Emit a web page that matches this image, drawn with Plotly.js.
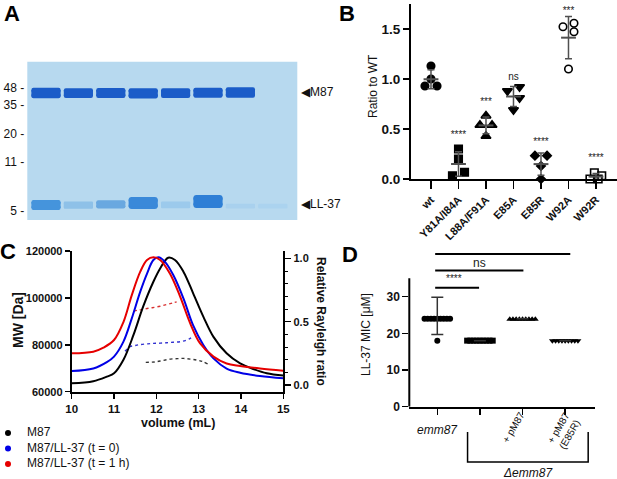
<!DOCTYPE html>
<html><head><meta charset="utf-8">
<script src="https://cdn.plot.ly/plotly-3.0.1.min.js"></script>
<style>html,body{margin:0;padding:0;background:#fff}#plot{width:617px;height:479px}</style>
</head><body><div id="plot"></div>
<script>
// ---------- Panel A (gel) data ----------
const gelLanes = ['wt','Y81A/I84A','L88A/F91A','E85A','E85R','W92A','W92R','–'];
const ladderLabels = ['48 -','35 -','20 -','11 -','5 -'];
const ladderPos = [16.2, 27.4, 45.7, 63.5, 94.1];          // migration (% of gel height)
const m87Center = [19.8, 19.8, 19.8, 20.0, 19.8, 19.6, 19.4];
const m87Thick  = [6.6, 6.2, 6.4, 6.4, 6.2, 6.4, 6.6];
const ll37Center = [90.5, 90.6, 90.2, 89.3, 90.4, 88.3, 91.2, 91.2];
const ll37Thick  = [6.3, 4.6, 5.2, 7.6, 4.2, 8.2, 3.0, 3.0];
const ll37Color  = ['#4594dc','#8ec1e8','#69a8e0','#3a89d9','#9ccaec','#2e7fd6','#a9d1ee','#abd3ef'];

// ---------- Panel B data ----------
const bGroups = ['wt','Y81A/I84A','L88A/F91A','E85A','E85R','W92A','W92R'];
const bWt   = [1.13, 1.00, 0.93, 0.93];
const bY81A = [0.30, 0.20, 0.033, 0.067];
const bL88A = [0.633, 0.54, 0.54, 0.43];
const bE85A = [0.88, 0.92, 0.81, 0.69];
const bE85R = [0.233, 0.233, 0.13, 0.0];
const bW92A = [1.523, 1.557, 1.473, 1.10];
const bW92R = [0.063, 0.033, 0.0, 0.0];
const bJitter = [[0,0,-0.22,0.22],[0,0,-0.22,0.22],[0,-0.22,0.22,0],[-0.22,0.22,0.22,0],[-0.22,0.22,0,0],[-0.2,0.2,0.2,0],[-0.06,0.21,-0.22,0.08]];
const bSymbols = ['circle','square','triangle-up','triangle-down','diamond','circle-open','square-open'];
const bSig  = ['', '****', '***', 'ns', '****', '***', '****'];
const bSigY = [null, 0.44, 0.77, 1.02, 0.37, 1.68, 0.21];

// ---------- Panel C data ----------
const m87X = [10, 10.51, 10.83, 11.0, 11.22, 11.46, 11.69, 11.93, 12.09, 12.28, 12.44, 12.64, 12.87, 13.11, 13.35, 13.66, 13.98, 14.29, 14.61, 15];
const m87R = [0.013, 0.03, 0.066, 0.092, 0.197, 0.395, 0.62, 0.815, 0.92, 1.005, 0.987, 0.895, 0.724, 0.54, 0.38, 0.25, 0.17, 0.126, 0.092, 0.074];
const t0X = [10, 10.51, 10.83, 11.0, 11.22, 11.42, 11.62, 11.78, 11.93, 12.05, 12.2, 12.4, 12.64, 12.87, 13.11, 13.35, 13.66, 13.98, 14.45, 15];
const t0R = [0.11, 0.13, 0.18, 0.224, 0.34, 0.526, 0.737, 0.88, 0.987, 1.008, 0.974, 0.868, 0.684, 0.47, 0.316, 0.21, 0.13, 0.097, 0.071, 0.053];
const t1X = [10, 10.51, 10.75, 11.0, 11.22, 11.42, 11.62, 11.78, 11.93, 12.09, 12.32, 12.56, 12.8, 13.03, 13.35, 13.66, 13.98, 14.45, 15];
const t1R = [0.25, 0.263, 0.295, 0.355, 0.495, 0.71, 0.895, 0.987, 1.008, 0.987, 0.88, 0.70, 0.487, 0.33, 0.224, 0.17, 0.15, 0.13, 0.113];
const m87MwX = [11.75, 11.9, 12.01, 12.15, 12.33, 12.5, 12.64, 12.8, 12.95, 13.1, 13.22];
const m87Mw  = [72500, 72600, 72800, 73300, 73900, 74100, 74200, 73900, 73500, 72800, 71800];
const t0MwX = [11.26, 11.32, 11.38, 11.5, 11.62, 11.8, 11.93, 12.1, 12.25, 12.4, 12.56, 12.7, 12.8, 12.87];
const t0Mw  = [77300, 78300, 79200, 79700, 80100, 80400, 80600, 80700, 80900, 81100, 81300, 81900, 82700, 83500];
const t1MwX = [11.47, 11.55, 11.65, 11.78, 11.9, 12.09, 12.25, 12.4, 12.48];
const t1Mw  = [94300, 94700, 95000, 95500, 95800, 96450, 97200, 97900, 98300];
const cNames = ['M87','M87/LL-37 (t = 0)','M87/LL-37 (t = 1 h)'];
const cColors = ['#000000','#0000e6','#e60000'];
const cMwColors = ['#333333','#3030d0','#d83030'];

// ---------- Panel D data ----------
const dMean = [24.75, 18, 24, 18];
const dSD   = [5.05, 0, 0, 0];
const dEmm  = [24,24,24,24,24,24,24,24,24,18];
const dEmmJ = [-0.3,-0.225,-0.15,-0.075,0,0.075,0.15,0.225,0.3,0];
const dDel  = [18,18,18,18,18,18,18,18,18];
const dPm   = [23.8,23.8,23.8,23.8,23.8,23.8,23.8,23.8,23.8];
const dPe   = [18,18,18,18,18,18,18,18,18];
const dJ    = [-0.3,-0.225,-0.15,-0.075,0,0.075,0.15,0.225,0.3];
const brFrom = [-0.05, -0.05, -0.05];
const brTo   = [0.98, 2.02, 3.12];
const brY    = [32.4, 37.1, 41.6];
const brLab  = ['****', 'ns', '****'];
const brLabY = [35.0, 39.2, 44.0];
const delBracket = [0.71, 3.54];

// ---------- helpers ----------
const W = 617, H = 479;
const FONT = 'Liberation Sans, Arial, sans-serif';
const dx = (a, b) => [a / W, b / W];
const dy = (t, b) => [1 - b / H, 1 - t / H];
const py = p => 1 - p / H;
const px = p => p / W;

const traces = [];
// Gel bands: two rounded half-bars from the band centre plus a plain core bar (covers the seam)
function band(centers, thick, color) {
  [1, -1].forEach(sgn => {
    traces.push({type:'bar', x: centers.map((_, i) => i), y: thick.map(t => sgn * t / 2), base: centers,
      width: 0.9, marker: {color: color, line: {width: 0}, cornerradius: 4}, xaxis: 'x', yaxis: 'y', showlegend: false, hoverinfo: 'skip'});
  });
  traces.push({type:'bar', x: centers.map((_, i) => i), y: thick.map(t => t * 0.6), base: centers.map((c, i) => c - thick[i] * 0.3),
    width: 0.9, marker: {color: color, line: {width: 0}}, xaxis: 'x', yaxis: 'y', showlegend: false, hoverinfo: 'skip'});
}
band(m87Center, m87Thick, '#1b5cc8');
band(ll37Center, ll37Thick, ll37Color);

// Panel B
const bAll = [bWt, bY81A, bL88A, bE85A, bE85R, bW92A, bW92R];
const mean = a => a.reduce((s, v) => s + v, 0) / a.length;
const sd = a => { const m = mean(a); return Math.sqrt(a.reduce((s, v) => s + (v - m) * (v - m), 0) / (a.length - 1)); };
bAll.forEach((vals, g) => {
  const sym = bSymbols[g];
  traces.push({type:'scatter', mode:'markers', x: vals.map((_, k) => g + bJitter[g][k]), y: vals,
    marker: {symbol: sym, size: sym.indexOf('triangle') === 0 ? 8.5 : (sym === 'diamond' ? 6.5 : 7.5), color: '#000', line: {color: '#000', width: 1.6}},
    xaxis: 'x2', yaxis: 'y2', showlegend: false, cliponaxis: false, hoverinfo: 'skip'});
});
traces.push({type:'scatter', mode:'markers', x: bGroups.map((_, i) => i), y: bAll.map(mean),
  marker: {size: 1, color: 'rgba(0,0,0,0)'},
  error_y: {type: 'data', array: bAll.map(sd), color: '#505050', thickness: 1.5, width: 3.5},
  error_x: {type: 'data', array: bGroups.map(() => 0.27), color: '#505050', thickness: 2, width: 0},
  xaxis: 'x2', yaxis: 'y2', showlegend: false, cliponaxis: false, hoverinfo: 'skip'});
traces.push({type:'scatter', mode:'text', x: bGroups.map((_, i) => i), y: bSigY, text: bSig,
  textfont: {family: FONT, size: 10, color: '#222'}, xaxis: 'x2', yaxis: 'y2', showlegend: false, cliponaxis: false, hoverinfo: 'skip'});

// Panel C
[[m87MwX, m87Mw], [t0MwX, t0Mw], [t1MwX, t1Mw]].forEach((s, i) => {
  traces.push({type:'scatter', mode:'lines', x: s[0], y: s[1], line: {color: cMwColors[i], width: 1.4, dash: 'dot', shape: 'spline'},
    xaxis: 'x3', yaxis: 'y3', showlegend: false, hoverinfo: 'skip'});
});
[[m87X, m87R], [t0X, t0R], [t1X, t1R]].forEach((s, i) => {
  traces.push({type:'scatter', mode:'lines', x: s[0], y: s[1], line: {color: cColors[i], width: 2, shape: 'spline', smoothing: 1},
    xaxis: 'x3', yaxis: 'y4', showlegend: false, hoverinfo: 'skip'});
});
// Legend of panel C (own small axis: rows 0..2)
traces.push({type:'scatter', mode:'markers', x: cNames.map(() => 8), y: cNames.map((_, i) => i), marker: {color: cColors, size: 6},
  xaxis: 'x5', yaxis: 'y6', showlegend: false, cliponaxis: false, hoverinfo: 'skip'});
traces.push({type:'scatter', mode:'text', x: cNames.map(() => 27), y: cNames.map((_, i) => i), text: cNames, textposition: 'middle right',
  textfont: {family: FONT, size: 12, color: '#111'}, xaxis: 'x5', yaxis: 'y6', showlegend: false, cliponaxis: false, hoverinfo: 'skip'});

// Panel D
const dSets = [[dEmm, dEmmJ, 'circle'], [dDel, dJ, 'square'], [dPm, dJ, 'triangle-up'], [dPe, dJ, 'triangle-down']];
dSets.forEach((s, g) => {
  traces.push({type:'scatter', mode:'markers', x: s[0].map((_, k) => g + s[1][k]), y: s[0],
    marker: {symbol: s[2], size: 6, color: '#000', line: {width: 0}}, xaxis: 'x4', yaxis: 'y5', showlegend: false, cliponaxis: false, hoverinfo: 'skip'});
});
traces.push({type:'scatter', mode:'markers', x: dMean.map((_, i) => i), y: dMean, marker: {size: 1, color: 'rgba(0,0,0,0)'},
  error_y: {type: 'data', array: dSD, color: '#333', thickness: 1.5, width: 6},
  xaxis: 'x4', yaxis: 'y5', showlegend: false, cliponaxis: false, hoverinfo: 'skip'});
brFrom.forEach((f, i) => {
  traces.push({type:'scatter', mode:'lines', x: [f, brTo[i]], y: [brY[i], brY[i]], line: {color: '#000', width: 2},
    xaxis: 'x4', yaxis: 'y5', showlegend: false, hoverinfo: 'skip'});
});

const boldTick = s => ({family: FONT, size: s, color: '#111', weight: 'bold'});
const axBase = {showgrid: false, zeroline: false, linecolor: '#000', ticks: 'outside', tickcolor: '#000'};

const ann = [];
const txt = (x, y, text, o) => ann.push(Object.assign({xref: 'paper', yref: 'paper', x: px(x), y: py(y), text: text, showarrow: false,
  xanchor: 'center', yanchor: 'middle', font: {family: FONT, size: 12, color: '#111'}}, o || {}));
// panel letters
txt(12, 14, '<b>A</b>', {font: {family: FONT, size: 22, color: '#000'}});
txt(347, 13, '<b>B</b>', {font: {family: FONT, size: 22, color: '#000'}});
txt(8, 251, '<b>C</b>', {font: {family: FONT, size: 22, color: '#000'}});
txt(350, 255, '<b>D</b>', {font: {family: FONT, size: 22, color: '#000'}});
// gel lane labels
gelLanes.forEach((l, i) => {
  if (l === '–') {
    ann.push({xref: 'x', yref: 'y', x: i, y: -7.5, text: l, showarrow: false, font: {family: FONT, size: 13, color: '#111'}});
  } else {
    ann.push({xref: 'x', yref: 'y', x: i - 0.12, y: -2.5, text: l, showarrow: false, textangle: -40, xanchor: 'left', yanchor: 'bottom',
      font: {family: FONT, size: 13, color: '#111'}});
  }
});
ann.push({xref: 'paper', yref: 'y', x: px(299), y: 19.2, text: '◀M87', showarrow: false, xanchor: 'left', font: {family: FONT, size: 12, color: '#111'}});
ann.push({xref: 'paper', yref: 'y', x: px(299), y: 89.6, text: '◀LL-37', showarrow: false, xanchor: 'left', font: {family: FONT, size: 12, color: '#111'}});
// D significance labels
brLab.forEach((l, i) => {
  ann.push({xref: 'x4', yref: 'y5', x: (brFrom[i] + brTo[i]) / 2 - (l === 'ns' ? 0 : 0.07), y: brLabY[i], text: l, showarrow: false,
    font: {family: FONT, size: l === 'ns' ? 12 : 10, color: '#222'}});
});
// axis titles
txt(373, 86, 'Ratio to WT', {textangle: -90, font: {family: FONT, size: 12, color: '#111'}});
txt(18, 320, '<b>MW [Da]</b>', {textangle: -90, font: {family: FONT, size: 14, color: '#111'}});
txt(321, 321, '<b>Relative Rayleigh ratio</b>', {textangle: 90, font: {family: FONT, size: 12, color: '#111'}});
txt(178, 423, '<b>volume (mL)</b>', {font: {family: FONT, size: 12.5, color: '#111'}});
txt(366, 334, 'LL-37 MIC [μM]', {textangle: -90, font: {family: FONT, size: 12, color: '#111'}});
// D category labels
txt(437, 430, '<i>emm87</i>', {font: {family: FONT, size: 12, color: '#111'}});
txt(513, 427, '+ pM87', {textangle: -60, font: {family: FONT, size: 10, color: '#111'}});
txt(564, 431, '+ pM87<br>(E85R)', {textangle: -60, font: {family: FONT, size: 10, color: '#111'}});
txt(528, 473, '<i>Δemm87</i>', {font: {family: FONT, size: 12, color: '#111'}});

const shapes = [
  {type: 'rect', xref: 'x domain', yref: 'y domain', x0: 0, x1: 1, y0: 0, y1: 1, fillcolor: '#b7d9ef', line: {width: 0}, layer: 'below'},
  {type: 'line', xref: 'x4 domain', yref: 'y5', x0: 0, x1: 0, y0: 0, y1: 35, line: {color: '#000', width: 2}},
  {type: 'path', xref: 'x4', yref: 'paper',
   path: `M ${delBracket[0]} ${py(432)} L ${delBracket[0]} ${py(462)} L ${delBracket[1]} ${py(462)} L ${delBracket[1]} ${py(432)}`,
   line: {color: '#000', width: 1.5}}
];

const layout = {
  width: W, height: H, margin: {l: 0, r: 0, t: 0, b: 0, autoexpand: false}, paper_bgcolor: '#fff', plot_bgcolor: 'rgba(0,0,0,0)',
  barmode: 'overlay', font: {family: FONT, color: '#111'}, showlegend: false,
  xaxis: {domain: dx(27.3, 297.3), range: [-0.577, 7.756], visible: false, anchor: 'y'},
  yaxis: {domain: dy(61.7, 220), range: [100, 0], anchor: 'x', showgrid: false, zeroline: false, showline: false, ticks: '',
    tickmode: 'array', tickvals: ladderPos, ticktext: ladderLabels, tickfont: {family: FONT, size: 12, color: '#111'}, ticklabelstandoff: 2},
  xaxis2: Object.assign({}, axBase, {domain: dx(411, 617), range: [-0.727, 6.764], anchor: 'y2', showline: true, linewidth: 2,
    tickmode: 'array', tickvals: bGroups.map((_, i) => i), ticktext: bGroups, tickangle: -45, ticklen: 8, tickwidth: 1.5, tickfont: boldTick(11)}),
  yaxis2: Object.assign({}, axBase, {domain: dy(4, 179), range: [0, 1.75], anchor: 'x2', showline: true, linewidth: 2,
    tickmode: 'array', tickvals: [0, 0.5, 1, 1.5], ticktext: ['0.0', '0.5', '1.0', '1.5'], ticklen: 6, tickwidth: 1.5, tickfont: boldTick(13.5)}),
  xaxis3: Object.assign({}, axBase, {domain: dx(71.7, 283.3), range: [10, 15], anchor: 'y3', showline: true, linewidth: 2,
    tickmode: 'linear', tick0: 10, dtick: 1, ticklen: 5, tickwidth: 1.5, tickfont: boldTick(11.5)}),
  yaxis3: Object.assign({}, axBase, {domain: dy(251, 391.7), range: [60000, 120000], anchor: 'x3', showline: true, linewidth: 2,
    tickmode: 'array', tickvals: [60000, 80000, 100000, 120000], ticktext: ['60000', '80000', '100000', '120000'], ticklen: 5, tickwidth: 1.5, tickfont: boldTick(11)}),
  yaxis4: Object.assign({}, axBase, {domain: dy(251, 391.7), range: [-0.053, 1.058], anchor: 'x3', overlaying: 'y3', side: 'right', showline: true, linewidth: 2,
    tickmode: 'linear', tick0: 0, dtick: 0.5, tickformat: '.1f', ticklen: 6, tickwidth: 1.5, tickfont: boldTick(11),
    minor: {dtick: 0.1, tick0: 0, ticks: 'outside', ticklen: 3, tickwidth: 1, tickcolor: '#000'}}),
  xaxis4: Object.assign({}, axBase, {domain: dx(409.3, 595), range: [-0.657, 3.70], anchor: 'y5', showline: true, linewidth: 2,
    tickmode: 'array', tickvals: [0, 1, 2, 3], ticktext: ['', '', '', ''], ticklen: 6, tickwidth: 1.5}),
  yaxis5: Object.assign({}, axBase, {domain: dy(248.9, 406.7), range: [0, 43], anchor: 'x4', showline: false,
    tickmode: 'array', tickvals: [0, 10, 20, 30], ticklen: 6, tickwidth: 1.5, tickfont: boldTick(12)}),
  xaxis5: {domain: dx(0, 200), range: [0, 200], visible: false, anchor: 'y6'},
  yaxis6: {domain: dy(425, 472), range: [2.516, -0.516], visible: false, anchor: 'x5'},
  annotations: ann, shapes: shapes
};

Plotly.newPlot('plot', traces, layout, {staticPlot: true, displayModeBar: false});
</script></body></html>
